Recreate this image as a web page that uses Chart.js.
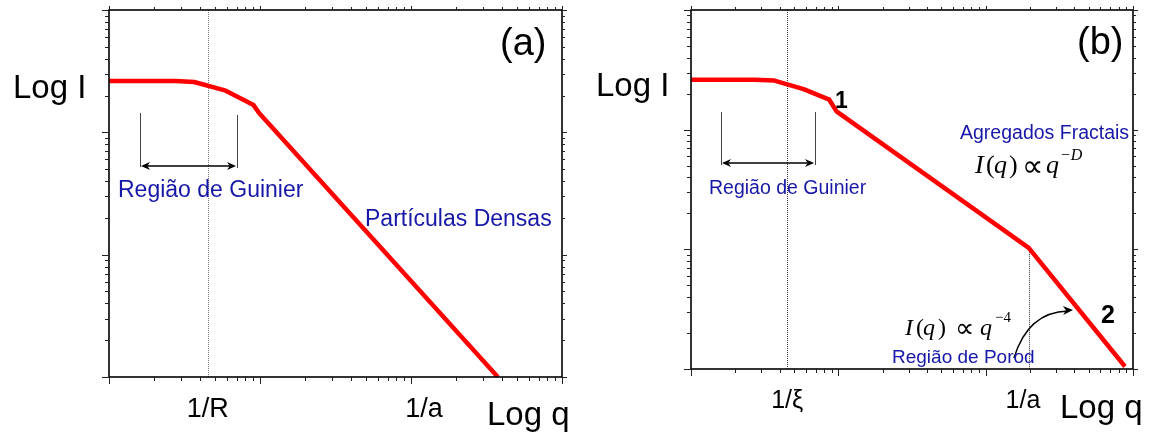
<!DOCTYPE html>
<html>
<head>
<meta charset="utf-8">
<script src="https://cdn.jsdelivr.net/npm/chart.js@4.4.1/dist/chart.umd.min.js"></script>
<style>
  html, body { margin: 0; padding: 0; background: #fff; }
  #ca { position: absolute; left: 0; top: 0; }
  #cb { position: absolute; left: 580px; top: 0; }
</style>
</head>
<body>
<canvas id="ca" width="580" height="432"></canvas>
<canvas id="cb" width="574" height="432"></canvas>
<script>
// ---------- data ----------
const qA = [1, 2.77, 3.67, 5.93, 9.06, 9.86, 376];
const intensityA = [263, 263, 258, 219, 167, 144, 1];
const qB = [1, 2.69, 3.68, 5.81, 8.68, 9.72, 196, 882];
const intensityB = [261, 261, 257, 218, 178, 142, 10.3, 1.05];
const tickValuesA = [4.5, 122];
const tickLabelsA = ['1/R', '1/a'];
const tickValuesB = [4.5, 179];
const tickLabelsB = ['1/ξ', '1/a'];
const guideA = [{ x: 4.5, top: null }];
const guideB = [{ x: 4.5, top: null }, { x: 196, top: 10.3 }];
const axisMin = 1, axisMax = 1000;

const SANS = '"Liberation Sans", Arial, sans-serif';
const SERIF = '"Liberation Serif", "Times New Roman", serif';
const MATH = '"DejaVu Sans", "DejaVu Serif", sans-serif';
const BLUE = '#1717a8';

function logTickList(min, max) {
  const out = [];
  for (let d = min; d < max * 0.999; d *= 10) {
    for (let k = 1; k < 10; k++) out.push({ v: k * d, major: k === 1 });
  }
  out.push({ v: max, major: true });
  return out;
}

function arrowHead(ctx, x, y, dx, dy, len, half) {
  const l = Math.hypot(dx, dy); const ux = dx / l, uy = dy / l;
  ctx.beginPath();
  ctx.moveTo(x, y);
  ctx.lineTo(x - ux * len - uy * half, y - uy * len + ux * half);
  ctx.lineTo(x - ux * len * 0.7, y - uy * len * 0.7);
  ctx.lineTo(x - ux * len + uy * half, y - uy * len - ux * half);
  ctx.closePath();
  ctx.fill();
}

function makeDecor(cfg) {
  return {
    id: 'decor',
    beforeDatasetsDraw(chart) {
      const { ctx, chartArea: a, scales: { x, y } } = chart;
      ctx.save();
      ctx.strokeStyle = cfg.guideColor;
      ctx.lineWidth = 1;
      ctx.setLineDash([1, 1]);
      for (const g of cfg.guides) {
        const px = Math.round(x.getPixelForValue(g.x)) + 0.5;
        const top = g.top == null ? a.top : y.getPixelForValue(g.top);
        ctx.beginPath(); ctx.moveTo(px, top); ctx.lineTo(px, a.bottom); ctx.stroke();
      }
      ctx.restore();
    },
    afterDatasetsDraw(chart) {
      const { ctx, chartArea: a, scales: { x, y } } = chart;
      ctx.save();
      // frame
      ctx.strokeStyle = '#000';
      ctx.lineWidth = 1.6;
      ctx.strokeRect(a.left, a.top, a.right - a.left, a.bottom - a.top);
      // tick marks on all four sides (outward)
      ctx.lineWidth = 1;
      ctx.strokeStyle = '#222';
      const ticks = logTickList(axisMin, axisMax);
      for (const t of ticks) {
        const L = t.major ? 7 : 4;
        const px = Math.round(x.getPixelForValue(t.v)) + 0.5;
        ctx.beginPath();
        ctx.moveTo(px, a.bottom); ctx.lineTo(px, a.bottom + L);
        ctx.moveTo(px, a.top); ctx.lineTo(px, a.top - (t.major ? 4 : 3));
        ctx.stroke();
        const py = Math.round(y.getPixelForValue(t.v)) + 0.5;
        ctx.beginPath();
        ctx.moveTo(a.left, py); ctx.lineTo(a.left - L, py);
        ctx.moveTo(a.right, py); ctx.lineTo(a.right + (t.major ? 5 : 3), py);
        ctx.stroke();
      }
      // Guinier bracket
      const b = cfg.bracket;
      ctx.strokeStyle = '#444';
      ctx.lineWidth = 1;
      ctx.beginPath();
      ctx.moveTo(b.x1 + 0.5, b.y1a); ctx.lineTo(b.x1 + 0.5, b.y1b);
      ctx.moveTo(b.x2 + 0.5, b.y2a); ctx.lineTo(b.x2 + 0.5, b.y2b);
      ctx.stroke();
      ctx.strokeStyle = '#000';
      ctx.fillStyle = '#000';
      ctx.lineWidth = 1.6;
      ctx.beginPath();
      ctx.moveTo(b.x1 + 4, b.ay); ctx.lineTo(b.x2 - 4, b.ay);
      ctx.stroke();
      arrowHead(ctx, b.x1 + 1, b.ay, -1, 0, 9, 4);
      arrowHead(ctx, b.x2 - 1, b.ay, 1, 0, 9, 4);
      // curved arrow
      if (cfg.curve) {
        const c = cfg.curve;
        ctx.lineWidth = 1.5;
        ctx.beginPath();
        ctx.moveTo(c.x0, c.y0);
        ctx.quadraticCurveTo(c.cx, c.cy, c.x1 - 5, c.y1 + 1);
        ctx.stroke();
        arrowHead(ctx, c.x1, c.y1, c.x1 - c.cx, c.y1 - c.cy, 10, 4.5);
      }
      // texts
      ctx.textBaseline = 'alphabetic';
      ctx.textAlign = 'left';
      for (const t of cfg.texts) {
        ctx.font = t.font;
        ctx.fillStyle = t.color || '#000';
        ctx.fillText(t.text, t.x, t.y);
      }
      ctx.restore();
    }
  };
}

function makeChart(id, q, I, tickVals, tickLabs, L, decor) {
  return new Chart(document.getElementById(id), {
    type: 'line',
    data: {
      datasets: [{
        data: q.map((v, i) => ({ x: v, y: I[i] })),
        borderColor: '#ff0000',
        borderWidth: 4.5,
        borderJoinStyle: 'round',
        pointRadius: 0,
        tension: 0,
        fill: false
      }]
    },
    options: {
      responsive: false,
      animation: false,
      events: [],
      layout: { padding: { top: 10, right: L.right, left: 0, bottom: 0 } },
      plugins: { legend: { display: false }, tooltip: { enabled: false } },
      scales: {
        x: {
          type: 'logarithmic', min: axisMin, max: axisMax, position: 'bottom',
          grid: { display: false, drawTicks: false },
          border: { display: false },
          ticks: {
            autoSkip: false, maxRotation: 0, minRotation: 0,
            padding: L.tickPad, color: '#000',
            font: { family: SANS, size: L.tickSize },
            callback: (v, i) => tickLabs[i]
          },
          afterBuildTicks: s => { s.ticks = tickVals.map(v => ({ value: v })); },
          afterFit: s => { s.height = L.xHeight; }
        },
        y: {
          type: 'logarithmic', min: axisMin, max: axisMax, position: 'left',
          grid: { display: false, drawTicks: false },
          border: { display: false },
          ticks: { display: false },
          afterFit: s => { s.width = L.yWidth; }
        }
      }
    },
    plugins: [makeDecor(decor)]
  });
}

// ---------- panel (a) ----------
makeChart('ca', qA, intensityA, tickValuesA, tickLabelsA,
  { right: 18, xHeight: 55, yWidth: 109, tickPad: 16, tickSize: 27 },
  {
    guideColor: '#777',
    guides: guideA,
    bracket: { x1: 140, y1a: 113, y1b: 167, x2: 237, y2a: 115, y2b: 168, ay: 166 },
    curve: null,
    texts: [
      { text: 'Log I', x: 13, y: 98, font: `33px ${SANS}` },
      { text: '(a)', x: 500, y: 55, font: `38px ${SANS}` },
      { text: 'Log q', x: 487, y: 425, font: `33px ${SANS}` },
      { text: 'Região de Guinier', x: 118, y: 197, font: `23px ${SANS}`, color: BLUE },
      { text: 'Partículas Densas', x: 365, y: 226, font: `23px ${SANS}`, color: BLUE }
    ]
  });

// ---------- panel (b) ----------
makeChart('cb', qB, intensityB, tickValuesB, tickLabelsB,
  { right: 21, xHeight: 63, yWidth: 111, tickPad: 17, tickSize: 25 },
  {
    guideColor: '#333',
    guides: guideB,
    bracket: { x1: 141, y1a: 112, y1b: 165, x2: 235, y2a: 112, y2b: 165, ay: 163 },
    curve: { x0: 434, y0: 358, cx: 448, cy: 312, x1: 493, y1: 310 },
    texts: [
      { text: 'Log I', x: 16, y: 96, font: `33px ${SANS}` },
      { text: '(b)', x: 497, y: 54, font: `38px ${SANS}` },
      { text: 'Log q', x: 480, y: 418, font: `33px ${SANS}` },
      { text: 'Região de Guinier', x: 129, y: 194, font: `19.5px ${SANS}`, color: BLUE },
      { text: 'Agregados Fractais', x: 380, y: 139, font: `19.5px ${SANS}`, color: BLUE },
      { text: 'Região de Porod', x: 312, y: 363, font: `19px ${SANS}`, color: BLUE },
      { text: '1', x: 255, y: 108, font: `bold 23px ${SANS}` },
      { text: '2', x: 521, y: 323, font: `bold 25px ${SANS}` },
      // I(q) ∝ q^-D
      { text: 'I', x: 395, y: 173, font: `italic 26px ${SERIF}` },
      { text: '(', x: 406, y: 173, font: `26px ${SERIF}` },
      { text: 'q', x: 414, y: 173, font: `italic 26px ${SERIF}` },
      { text: ')', x: 429, y: 173, font: `26px ${SERIF}` },
      { text: '∝', x: 442, y: 176, font: `30px ${MATH}` },
      { text: 'q', x: 466, y: 173, font: `italic 26px ${SERIF}` },
      { text: '−D', x: 480, y: 160, font: `italic 16px ${SERIF}` },
      // I(q) ∝ q^-4
      { text: 'I', x: 325, y: 335, font: `italic 24px ${SERIF}` },
      { text: '(', x: 336, y: 335, font: `24px ${SERIF}` },
      { text: 'q', x: 343, y: 335, font: `italic 24px ${SERIF}` },
      { text: ')', x: 358, y: 335, font: `24px ${SERIF}` },
      { text: '∝', x: 375, y: 337, font: `27px ${MATH}` },
      { text: 'q', x: 400, y: 335, font: `italic 24px ${SERIF}` },
      { text: '−4', x: 415, y: 322, font: `15px ${SERIF}` }
    ]
  });
</script>
</body>
</html>
